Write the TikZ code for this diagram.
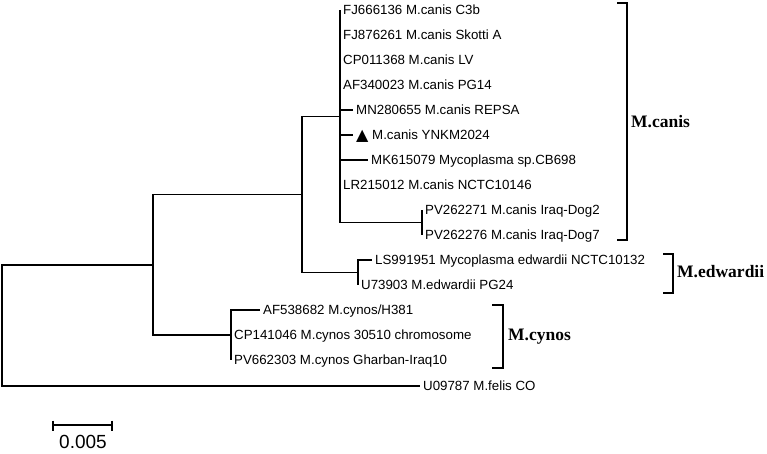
\documentclass[tikz,border=0pt]{standalone}
\usepackage{fontspec}
\setmainfont{Liberation Sans}
\newfontfamily\grpfont{Liberation Serif}
\newfontfamily\symfont{DejaVu Sans}
\begin{document}
\begin{tikzpicture}[x=1pt,y=-1pt,
  br/.style={line width=1.2pt},
  lab/.style={anchor=west, inner xsep=3pt, inner ysep=0pt, text height=9.5pt, text depth=0pt,
    font=\fontsize{13.3}{13.3}\selectfont},
  grp/.style={anchor=west, inner sep=0pt, font=\grpfont\bfseries\fontsize{17.5}{17.5}\selectfont},
  scl/.style={inner sep=0pt, font=\fontsize{19}{19}\selectfont}]
\useasboundingbox (0,0) rectangle (767,453);
% internal nodes
\coordinate (root) at (2,325.5);
\coordinate (nA) at (153,265);
\coordinate (nB) at (302,194.25);
\coordinate (nC) at (340,116.25);
\coordinate (nI) at (422,222.5);
\coordinate (nE) at (358,272.5);
\coordinate (nY) at (231,335);
% leaf labels
\node[lab] (l0) at (340,10) {FJ666136 M.canis C3b};
\node[lab] (l1) at (340,35) {FJ876261 M.canis Skotti A};
\node[lab] (l2) at (340,60) {CP011368 M.canis LV};
\node[lab] (l3) at (340,85) {AF340023 M.canis PG14};
\node[lab] (l4) at (353,110) {MN280655 M.canis REPSA};
\node[lab] (l5) at (353,135) {\raisebox{-0.5pt}{\symfont\fontsize{16}{16}\selectfont ▲} M.canis YNKM2024};
\node[lab] (l6) at (368,160) {MK615079 Mycoplasma sp.CB698};
\node[lab] (l7) at (340,185) {LR215012 M.canis NCTC10146};
\node[lab] (l8) at (422,210) {PV262271 M.canis Iraq-Dog2};
\node[lab] (l9) at (422,235) {PV262276 M.canis Iraq-Dog7};
\node[lab] (l10) at (372,260) {LS991951 Mycoplasma edwardii NCTC10132};
\node[lab] (l11) at (358,285) {U73903 M.edwardii PG24};
\node[lab] (l12) at (260,310) {AF538682 M.cynos/H381};
\node[lab] (l13) at (231,335) {CP141046 M.cynos 30510 chromosome};
\node[lab] (l14) at (231,360) {PV662303 M.cynos Gharban-Iraq10};
\node[lab] (l15) at (420,386) {U09787 M.felis CO};
% branches
\draw[br] (root) |- (nA);
\draw[br] (root) |- (l15.west);
\draw[br] (nA) |- (nB);
\draw[br] (nA) |- (nY);
\draw[br] (nB) |- (nC);
\draw[br] (nB) |- (nE);
\foreach \i in {0,...,7} {\draw[br] (nC) |- (l\i.west);}
\draw[br] (nC) |- (nI);
\draw[br] (nI) |- (l8.west);
\draw[br] (nI) |- (l9.west);
\draw[br] (nE) |- (l10.west);
\draw[br] (nE) |- (l11.west);
\draw[br] (nY) |- (l12.west);
\draw[br] (nY) |- (l13.west);
\draw[br] (nY) |- (l14.west);
% group brackets
\draw[br] (617,3) -- (627,3) -- (627,240) -- (617,240);
\node[grp] (gC) at (631,122) {M.canis};
\draw[br] (663,254) -- (673,254) -- (673,293) -- (663,293);
\node[grp] (gE) at (677,272) {M.edwardii};
\draw[br] (492,305) -- (503,305) -- (503,368) -- (492,368);
\node[grp] (gY) at (508,337) {M.cynos};
% scale bar
\coordinate (s1) at (53,425);
\coordinate (s2) at (112,425);
\draw[br] (s1) -- (s2);
\draw[br] (53,420.5) -- (53,430.5);
\draw[br] (112,420.5) -- (112,430.5);
\node[scl] (sl) at (83,442) {0.005};
\end{tikzpicture}
\end{document}
